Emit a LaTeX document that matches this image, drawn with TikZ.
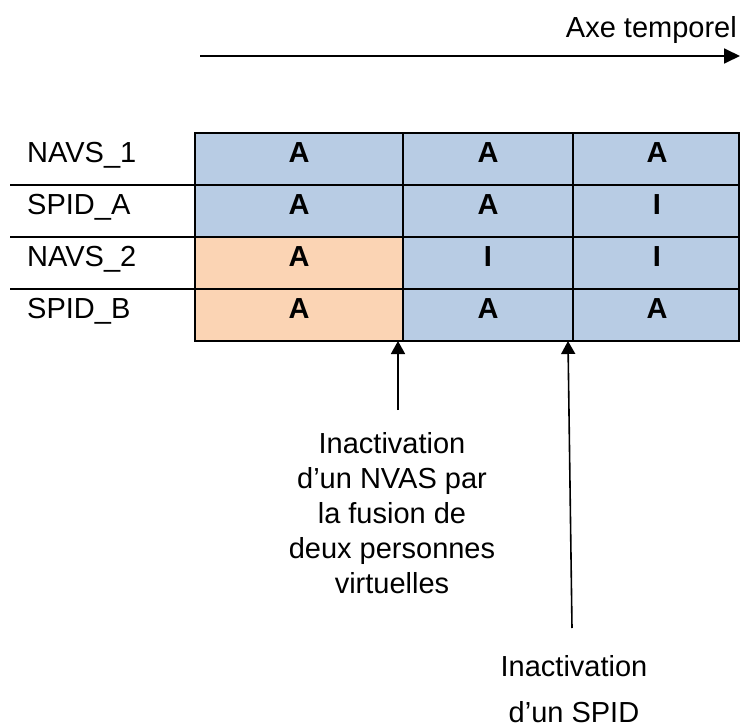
\documentclass[tikz,border=0pt]{standalone}
\usepackage{fontspec}
\setmainfont{Liberation Sans}
\usetikzlibrary{arrows.meta}
\definecolor{cellblue}{HTML}{B8CCE4}
\definecolor{cellpeach}{HTML}{FBD4B4}
\begin{document}
\begin{tikzpicture}[x=1pt,y=-1pt,
    rowlabel/.style={anchor=base west, inner sep=0pt, font=\fontsize{29}{35}\selectfont},
    state/.style={anchor=base, inner sep=0pt, font=\fontsize{29}{35}\selectfont\bfseries},
    note/.style={align=center, inner sep=0pt, font=\fontsize{29}{35}\selectfont},
    grid/.style={line width=1.8pt},
    timearrow/.style={line width=1.8pt, -{Triangle[length=16pt,width=15pt]}},
    event/.style={line width=1.6pt, -{Triangle[length=13pt,width=14pt]}}]
    \useasboundingbox (0,0) rectangle (740,728);

    % Time axis
    \coordinate (tstart) at (200,56);
    \coordinate (tend) at (740,56);
    \draw[timearrow] (tstart) -- (tend);
    \node[anchor=base east, inner sep=0pt, font=\fontsize{29}{35}\selectfont] (axis) at (737,37.5) {Axe temporel};

    % Cell backgrounds
    \fill[cellpeach] (195,237) rectangle (403,341);
    \fill[cellblue] (195,133) rectangle (403,237);
    \fill[cellblue] (403,133) rectangle (739,341);

    % Grid
    \draw[grid] (195,133) rectangle (739,341);
    \foreach \y in {185,237,289}
        \draw[grid] (10,\y) -- (739,\y);
    \foreach \x in {403,573}
        \draw[grid] (\x,133) -- (\x,341);

    % Row labels
    \foreach \name [count=\r from 0] in {NAVS\_1,SPID\_A,NAVS\_2,SPID\_B}
        \node[rowlabel] (row\r) at (27,{133+52*\r+29}) {\name};

    % States (A = actif, I = inactif)
    \foreach \cx/\states [count=\c] in {299/{A,A,A,A},488/{A,A,I,A},657/{A,I,I,A}}
        \foreach \s [count=\r from 0] in \states
            \node[state] (cell\c\r) at (\cx,{133+52*\r+29}) {\s};

    % Events
    \coordinate (fusion) at (398,341);
    \coordinate (fusiontail) at (398,410);
    \node[note] (fusionnote) at (392,513) {Inactivation\\d’un NVAS par\\la fusion de\\deux personnes\\virtuelles};
    \draw[event] (fusiontail) -- (fusion);

    \coordinate (spid) at (568,341);
    \coordinate (spidtail) at (572,628);
    \node[note, font=\fontsize{29}{46}\selectfont] (spidnote) at (574,689) {Inactivation\\d’un SPID};
    \draw[event] (spidtail) -- (spid);
\end{tikzpicture}
\end{document}
